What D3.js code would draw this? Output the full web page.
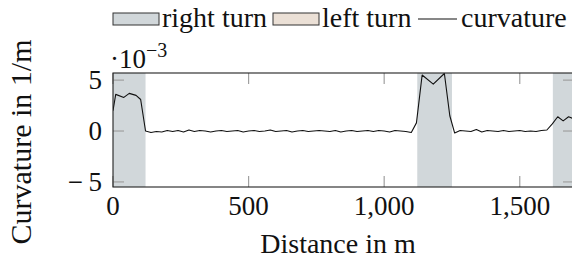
<!DOCTYPE html>
<html>
<head>
<meta charset="utf-8">
<script src="https://cdn.jsdelivr.net/npm/d3@7"></script>
<style>
body { margin: 0; background: #fff; }
svg { font-family: "Liberation Serif", "DejaVu Serif", serif; }
</style>
</head>
<body>
<div class="chart"></div>
<script>
// distance along the track (m) and curvature (1e-3 1/m)
const distance = [0, 10, 40, 60, 85, 102, 120, 140, 160, 180, 200, 220, 240, 260, 280, 300,
    320, 340, 360, 380, 400, 420, 440, 460, 480, 500, 520, 540, 560, 580, 600,
    620, 640, 660, 680, 700, 720, 740, 760, 780, 800, 820, 840, 860, 880, 900,
    920, 940, 960, 980, 1000, 1020, 1040, 1060, 1080, 1100, 1119, 1140, 1181, 1222,
    1242, 1260, 1280, 1300, 1320, 1340, 1360, 1380, 1400, 1420, 1440, 1460, 1480,
    1500, 1520, 1540, 1560, 1580, 1600, 1620, 1640, 1660, 1680, 1700];
const curvature = [2.0, 3.6, 3.3, 3.7, 3.5, 3.1, 0.0, -0.15, -0.05, -0.1, 0.05, -0.05, 0.05, -0.1, 0.1, -0.05,
    0.05, 0.0, -0.1, 0.0, 0.05, -0.05, 0.0, 0.05, -0.1, 0.0, 0.05, -0.05, 0.0, 0.1, -0.05,
    0.0, 0.05, -0.1, 0.0, 0.05, -0.05, 0.0, 0.05, 0.0, -0.05, 0.05, -0.1, 0.0, 0.05, -0.05,
    0.0, 0.05, -0.05, 0.05, 0.0, -0.1, 0.05, 0.0, -0.05, -0.15, 0.8, 5.5, 4.6, 5.65,
    1.5, -0.2, 0.05, 0.0, -0.05, 0.15, -0.1, 0.05, 0.0, -0.05, 0.05, -0.05, 0.0,
    0.05, -0.05, 0.0, -0.05, 0.05, 0.1, 0.7, 1.4, 1.0, 1.4, 1.2];

// turn segments [start, end] in m
const rightTurns = [[0, 120], [1122, 1250], [1622, 1760]];
const leftTurns = [];

const xTicks = [0, 500, 1000, 1500];
const yTicks = [-5, 0, 5];
const legendLabels = ["right turn", "left turn", "curvature"];

const width = 572;
const height = 264;
const margin = {top: 73, left: 113, bottom: 77, right: -2};

const rightColor = "#d1d7da";
const leftColor = "#ebe0d6";

const svg = d3.select(".chart")
    .append("svg")
    .attr("width", width)
    .attr("height", height);

const x = d3.scaleLinear()
    .domain([0, 1700])
    .range([margin.left, width - margin.right]);

const y = d3.scaleLinear()
    .domain([-5.5, 5.7])
    .range([height - margin.bottom, margin.top]);

svg.append("clipPath").attr("id", "plot-clip")
    .append("rect")
    .attr("x", x(0))
    .attr("y", y(5.7))
    .attr("width", x(1700) - x(0))
    .attr("height", y(-5.5) - y(5.7));

const plot = svg.append("g").attr("clip-path", "url(#plot-clip)");

plot.selectAll(".right-turn")
    .data(rightTurns)
    .enter()
    .append("rect")
    .attr("class", "right-turn")
    .attr("x", d => x(d[0]))
    .attr("width", d => x(d[1]) - x(d[0]))
    .attr("y", y(5.7))
    .attr("height", y(-5.5) - y(5.7))
    .attr("fill", rightColor);

plot.selectAll(".left-turn")
    .data(leftTurns)
    .enter()
    .append("rect")
    .attr("class", "left-turn")
    .attr("x", d => x(d[0]))
    .attr("width", d => x(d[1]) - x(d[0]))
    .attr("y", y(5.7))
    .attr("height", y(-5.5) - y(5.7))
    .attr("fill", leftColor);

// tick marks, drawn inward on all four sides
const tickLen = 11;
const grid = svg.append("g")
    .attr("stroke", "#a0a0a0")
    .attr("stroke-width", 1.2);

xTicks.forEach(t => {
    grid.append("line")
        .attr("x1", x(t)).attr("x2", x(t))
        .attr("y1", y(-5.5)).attr("y2", y(-5.5) - tickLen);
    grid.append("line")
        .attr("x1", x(t)).attr("x2", x(t))
        .attr("y1", y(5.7)).attr("y2", y(5.7) + tickLen);
});
yTicks.forEach(t => {
    grid.append("line")
        .attr("x1", x(0)).attr("x2", x(0) + tickLen)
        .attr("y1", y(t)).attr("y2", y(t));
    grid.append("line")
        .attr("x1", x(1700)).attr("x2", x(1700) - tickLen)
        .attr("y1", y(t)).attr("y2", y(t));
});

const line = d3.line()
    .x((d, i) => x(distance[i]))
    .y(d => y(d));

plot.append("path")
    .datum(curvature)
    .attr("d", line)
    .attr("fill", "none")
    .attr("stroke", "#111")
    .attr("stroke-width", 1.1)
    .attr("stroke-linejoin", "round");

// frame
svg.append("rect")
    .attr("x", x(0))
    .attr("y", y(5.7))
    .attr("width", x(1700) - x(0))
    .attr("height", y(-5.5) - y(5.7))
    .attr("fill", "none")
    .attr("stroke", "#222")
    .attr("stroke-width", 1.1);

const tickFont = 27;
const labelFont = 28;

// x tick labels
svg.selectAll(".x-label")
    .data(xTicks)
    .enter()
    .append("text")
    .attr("x", d => x(d))
    .attr("y", y(-5.5) + 28)
    .attr("text-anchor", "middle")
    .attr("font-size", tickFont)
    .attr("fill", "#111")
    .text(d => d3.format(",")(d));

// y tick labels
svg.selectAll(".y-label")
    .data(yTicks)
    .enter()
    .append("text")
    .attr("x", x(0) - 11)
    .attr("y", d => y(d) + 9)
    .attr("text-anchor", "end")
    .attr("font-size", tickFont)
    .attr("fill", "#111")
    .text(d => d < 0 ? "\u2212\u2009" + Math.abs(d) : d);

// scale factor
const sf = svg.append("text")
    .attr("x", x(0) - 3)
    .attr("y", 68)
    .attr("font-size", tickFont)
    .attr("fill", "#111");
sf.append("tspan").text("\u00b710");
sf.append("tspan").attr("dy", -11).attr("font-size", 20).text("\u22123");

svg.append("text")
    .attr("x", 338)
    .attr("y", 253)
    .attr("text-anchor", "middle")
    .attr("font-size", labelFont)
    .attr("fill", "#111")
    .text("Distance in m");

svg.append("text")
    .attr("transform", "translate(31,142) rotate(-90)")
    .attr("text-anchor", "middle")
    .attr("font-size", 30)
    .attr("fill", "#111")
    .text("Curvature in 1/m");

// legend
const legend = svg.append("g");
legend.append("rect")
    .attr("x", 113).attr("y", 13).attr("width", 46).attr("height", 12)
    .attr("fill", rightColor).attr("stroke", "#333").attr("stroke-width", 1);
legend.append("text")
    .attr("x", 162).attr("y", 27)
    .attr("font-size", labelFont).attr("fill", "#111")
    .text(legendLabels[0]);
legend.append("rect")
    .attr("x", 273).attr("y", 13).attr("width", 46).attr("height", 12)
    .attr("fill", leftColor).attr("stroke", "#333").attr("stroke-width", 1);
legend.append("text")
    .attr("x", 322).attr("y", 27)
    .attr("font-size", labelFont).attr("fill", "#111")
    .text(legendLabels[1]);
legend.append("line")
    .attr("x1", 418).attr("x2", 457).attr("y1", 19).attr("y2", 19)
    .attr("stroke", "#111").attr("stroke-width", 1.1);
legend.append("text")
    .attr("x", 461).attr("y", 27)
    .attr("font-size", labelFont).attr("fill", "#111")
    .text(legendLabels[2]);
</script>
</body>
</html>
